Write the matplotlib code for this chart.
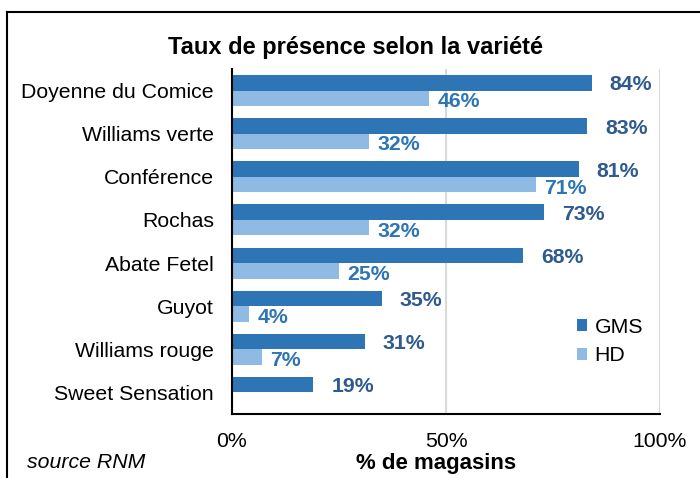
import matplotlib.pyplot as plt
import numpy as np
from matplotlib.lines import Line2D

plt.rcParams['font.family'] = ['Liberation Sans', 'DejaVu Sans']

# donnees
varietes = ['Doyenne du Comice', 'Williams verte', 'Conférence', 'Rochas',
            'Abate Fetel', 'Guyot', 'Williams rouge', 'Sweet Sensation']
gms = [84, 83, 81, 73, 68, 35, 31, 19]
hd = [46, 32, 71, 32, 25, 4, 7, 0]
xticks = [0, 50, 100]
xtick_labels = ['0%', '50%', '100%']

col_gms = '#2E75B6'
col_hd = '#8FBAE3'
col_lab_gms = '#2F5A8E'
col_lab_hd = '#2E75B6'

fig = plt.figure(figsize=(7, 4.78), dpi=100)
ax = fig.add_axes([232/700, 1-414/478, 428/700, 345/478])

y = np.arange(len(varietes))
h = 0.36
ax.barh(y - h/2, gms, height=h, color=col_gms, label='GMS', zorder=3)
ax.barh(y + h/2, hd, height=h, color=col_hd, label='HD', zorder=3)

# etiquettes de valeurs
for i in range(len(varietes)):
    ax.annotate(f'{gms[i]}%', (gms[i], y[i] - h/2), xytext=(13, -1.5),
                textcoords='offset points', ha='left', va='center',
                fontsize=15.3, fontweight='bold', color=col_lab_gms)
    if hd[i] > 0:
        ax.annotate(f'{hd[i]}%', (hd[i], y[i] + h/2), xytext=(6, -2.5),
                    textcoords='offset points', ha='left', va='center',
                    fontsize=15.3, fontweight='bold', color=col_lab_hd)

ax.set_xlim(0, 100)
ax.set_ylim(len(varietes) - 0.5, -0.5)
ax.set_yticks(y)
ax.set_yticklabels(varietes, fontsize=15.3)
ax.set_xticks(xticks)
ax.set_xticklabels(xtick_labels, fontsize=15.3)
ax.tick_params(axis='y', length=0, pad=13)
ax.tick_params(axis='x', length=0, pad=13)

ax.grid(axis='x', color='#D9D9D9', linewidth=1.5, zorder=0)
ax.grid(axis='y', visible=False)
for s in ['top', 'right']:
    ax.spines[s].set_visible(False)
ax.spines['left'].set_linewidth(1.5)
ax.spines['bottom'].set_linewidth(1.5)
ax.spines['left'].set_zorder(4)

fig.text(355/700, 1-47/478, 'Taux de présence selon la variété', ha='center',
         va='center', fontsize=17, fontweight='bold')
fig.text(436/700, 1-463/478, '% de magasins', ha='center', va='center',
         fontsize=16, fontweight='bold')
fig.text(27/700, 1-462/478, 'source RNM', ha='left', va='center',
         fontsize=15.3, fontstyle='italic')

leg = ax.legend(loc='upper left', bbox_to_anchor=(566/700, 1-307/478),
                bbox_transform=fig.transFigure, frameon=False, fontsize=15.3,
                handlelength=0.5, handleheight=0.5, handletextpad=0.35,
                labelspacing=0.45, borderpad=0)

# cadre exterieur
fig.add_artist(Line2D([7/700, 1], [1-12/478, 1-12/478], color='black', lw=1.5))
fig.add_artist(Line2D([7/700, 7/700], [0, 1-12/478], color='black', lw=1.5))

plt.savefig('out.png', dpi=100)
